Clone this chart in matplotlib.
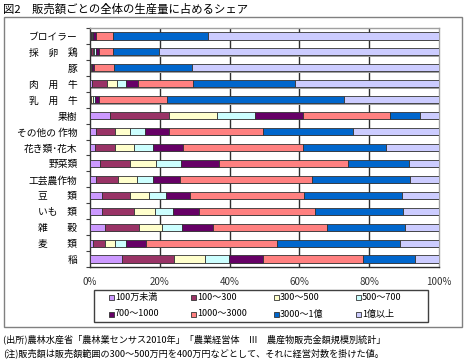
import numpy as np
import matplotlib
matplotlib.use("Agg")
import matplotlib.pyplot as plt
from matplotlib.patches import Rectangle

plt.rcParams["font.family"] = ["Noto Sans CJK JP", "DejaVu Sans"]

# categories, top to bottom
categories = ["ブロイラー", "採　卵　鶏", "豚", "肉　用　牛", "乳　用　牛", "果樹",
              "その他の 作物", "花き類･花木", "野菜類", "工芸農作物", "豆　　類",
              "いも　類", "雑　　穀", "麦　　類", "稲"]

# share of production by sales class (%)
s_lt100 = [0.3, 0.3, 0.1, 0.6, 0.1, 5.7, 1.8, 1.5, 2.8, 1.8, 3.3, 3.4, 4.2, 1.0, 9.2]
s_100_300 = [0.2, 0.5, 0.3, 4.2, 0.3, 17.0, 5.4, 5.8, 8.7, 6.3, 8.1, 9.1, 9.8, 3.4, 14.9]
s_300_500 = [0.2, 0.4, 0.1, 3.0, 0.5, 13.8, 4.3, 5.4, 7.5, 5.3, 5.5, 6.2, 6.6, 2.9, 8.8]
s_500_700 = [0.3, 0.4, 0.2, 2.5, 0.5, 10.9, 4.3, 5.3, 7.0, 4.7, 4.8, 5.2, 5.9, 3.1, 6.9]
s_700_1000 = [0.8, 0.9, 0.5, 3.5, 1.3, 13.7, 6.8, 8.6, 11.0, 7.7, 6.9, 7.3, 8.8, 5.7, 9.7]
s_1000_3000 = [4.9, 4.0, 5.7, 15.8, 19.3, 24.8, 27.1, 34.5, 37.0, 37.7, 32.8, 33.2, 32.7, 37.4, 28.8]
s_3000_1oku = [27.2, 13.2, 22.3, 29.2, 50.8, 8.7, 25.7, 23.7, 17.5, 28.2, 28.0, 25.3, 22.2, 35.4, 14.8]
s_ge1oku = [66.1, 80.3, 70.8, 41.2, 27.2, 5.4, 24.6, 15.2, 8.5, 8.3, 10.6, 10.3, 9.8, 11.1, 6.9]

series = [s_lt100, s_100_300, s_300_500, s_500_700, s_700_1000, s_1000_3000, s_3000_1oku, s_ge1oku]
labels = ["100万未満", "100～300", "300～500", "500～700",
          "700～1000", "1000～3000", "3000～1億", "1億以上"]
colors = ["#CC99FF", "#993366", "#FFFFCC", "#CCFFFF",
          "#660066", "#FF8080", "#0066CC", "#CCCCFF"]
xticks = [0, 20, 40, 60, 80, 100]

W, H = 470, 361
fig = plt.figure(figsize=(W / 100, H / 100), dpi=100)

# outer frame
fig.patches.append(Rectangle((4 / W, 1 - 327 / H), 458 / W, 310 / H,
                             transform=fig.transFigure, fill=False,
                             edgecolor="#808080", lw=1.0))

ax = fig.add_axes([90 / W, 1 - 267 / H, 349 / W, 239 / H])
y = np.arange(len(categories))
bh = 0.45

# shadows under bars
totals = np.sum(series, axis=0)
ax.barh(y + 0.08, totals, height=bh, left=0.4, color="#A0A0A0", lw=0, zorder=2)

left = np.zeros(len(categories))
for vals, lab, c in zip(series, labels, colors):
    ax.barh(y, vals, height=bh, left=left, color=c, edgecolor="#333333",
            lw=0.6, label=lab, zorder=3)
    left += np.array(vals)

ax.set_xlim(0, 100)
ax.set_ylim(len(categories) - 0.5, -0.5)
ax.set_xticks(xticks)
ax.set_xticklabels([f"{v}%" for v in xticks], fontsize=7, color="#333333")
ax.tick_params(axis="x", length=0, pad=7)
ax.set_yticks(y)
ax.set_yticklabels(categories, fontsize=7)
ax.tick_params(axis="y", length=0, pad=9)
ax.set_yticks(np.arange(len(categories) + 1) - 0.5, minor=True)
ax.tick_params(axis="y", which="minor", length=3, color="#404040", width=0.8)
for v in xticks[1:-1]:
    ax.axvline(v, color="#303030", lw=1.0, zorder=1)
ax.spines["left"].set_color("#303030")
ax.spines["bottom"].set_color("#303030")
ax.spines["top"].set_color("#A0A0A0")
ax.spines["right"].set_color("#A0A0A0")
for s in ax.spines.values():
    s.set_linewidth(1.0)

# legend box
fig.patches.append(Rectangle((94 / W, 1 - 322 / H), 334 / W, 32 / H,
                             transform=fig.transFigure, fill=False,
                             edgecolor="#404040", lw=1.0))
col_x = [111, 193, 276, 358]
row_y = [297, 314]
for i, (lab, c) in enumerate(zip(labels, colors)):
    cx = col_x[i % 4]
    cy = row_y[i // 4]
    fig.patches.append(Rectangle(((cx - 2.5) / W, 1 - (cy + 2.5) / H), 5 / W, 5 / H,
                                 transform=fig.transFigure, facecolor=c,
                                 edgecolor="#333333", lw=0.6))
    fig.text((cx + 4) / W, 1 - cy / H, lab, fontsize=6.5, va="center", ha="left")

fig.text(3 / W, 1 - 9 / H, "図2　販売額ごとの全体の生産量に占めるシェア",
         fontsize=8.2, va="center", ha="left")
fig.text(3 / W, 1 - 339 / H,
         "(出所)農林水産省「農林業センサス2010年」「農業経営体　Ⅲ　農産物販売金額規模別統計」",
         fontsize=6.6, va="center", ha="left")
fig.text(3 / W, 1 - 353 / H,
         "(注)販売額は販売額範囲の300～500万円を400万円などとして、それに経営対数を掛けた値。",
         fontsize=6.6, va="center", ha="left")

fig.savefig("out.png", dpi=100)
